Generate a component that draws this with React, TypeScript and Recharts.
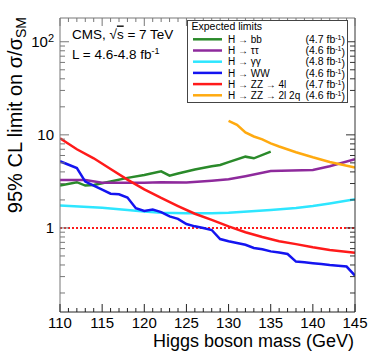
import React from "react";
import { LineChart, Line, XAxis, YAxis, ReferenceLine, Legend, Label } from "recharts";

// expected limits per channel
const massBB = [110, 112, 113, 114, 116, 118, 120, 122, 123, 124, 126, 128, 129, 130, 132, 133, 135];
const limitBB = [2.85, 3.1, 2.85, 2.9, 3.15, 3.45, 3.7, 4.06, 3.64, 3.85, 4.25, 4.6, 4.75, 5.1, 5.83, 5.6, 6.6];

const massTauTau = [110, 113, 115, 120, 122, 125, 128, 130, 132, 135, 140, 142, 145];
const limitTauTau = [3.27, 3.27, 3.05, 3.05, 3.1, 3.08, 3.22, 3.33, 3.6, 4.09, 4.2, 4.6, 5.46];

const massGamGam = [110, 115, 118, 120, 122, 125, 128, 130, 135, 138, 140, 142, 145];
const limitGamGam = [1.74, 1.65, 1.56, 1.5, 1.46, 1.44, 1.44, 1.46, 1.56, 1.64, 1.72, 1.83, 2.03];

const massWW = [110, 112, 113, 114, 115, 116, 117, 118, 119, 120, 121, 122, 123, 124, 125, 126, 127, 128, 129, 130, 131, 132, 133, 134, 135, 136, 137, 138, 139, 140, 141, 142, 143, 144, 145];
const limitWW = [5.2, 4.4, 3.15, 2.85, 2.58, 2.33, 2.3, 2.12, 1.63, 1.52, 1.58, 1.48, 1.33, 1.25, 1.1, 1.04, 1.0, 0.95, 0.76, 0.72, 0.69, 0.66, 0.61, 0.59, 0.56, 0.545, 0.525, 0.435, 0.428, 0.418, 0.41, 0.4, 0.393, 0.385, 0.308];

const massZZ4l = [110, 112, 114, 116, 118, 120, 122, 124, 126, 128, 130, 132, 134, 136, 138, 140, 142, 145];
const limitZZ4l = [9.2, 7.0, 5.6, 4.3, 3.3, 2.6, 2.1, 1.72, 1.42, 1.22, 1.04, 0.9, 0.8, 0.72, 0.67, 0.62, 0.58, 0.54];

const massZZ2l2q = [130, 131, 132, 133, 134, 135, 136, 138, 140, 142, 145];
const limitZZ2l2q = [14.1, 12.8, 10.6, 9.6, 8.95, 8.1, 7.5, 6.5, 5.74, 5.12, 4.45];

const channelNames = ["H → bb", "H → ττ", "H → γγ", "H → WW", "H → ZZ → 4l", "H → ZZ → 2l 2q"];
const channelLumi = ["4.7", "4.6", "4.8", "4.6", "4.7", "4.6"];
const channelColors = ["#2a8a2a", "#8e2a9c", "#2ee6ff", "#1414f0", "#ff1a1a", "#ffaa10"];

const massTicks = [110, 111, 112, 113, 114, 115, 116, 117, 118, 119, 120, 121, 122, 123, 124, 125, 126, 127, 128, 129, 130, 131, 132, 133, 134, 135, 136, 137, 138, 139, 140, 141, 142, 143, 144, 145];
const limitTicks = [0.2, 0.3, 0.4, 0.5, 0.6, 0.7, 0.8, 0.9, 1, 2, 3, 4, 5, 6, 7, 8, 9, 10, 20, 30, 40, 50, 60, 70, 80, 90, 100];

const zip = (xs: number[], ys: number[]) => xs.map((m, i) => ({ m, v: ys[i] }));
const series = [
  zip(massBB, limitBB),
  zip(massTauTau, limitTauTau),
  zip(massGamGam, limitGamGam),
  zip(massWW, limitWW),
  zip(massZZ4l, limitZZ4l),
  zip(massZZ2l2q, limitZZ2l2q),
];

const FONT = "'Liberation Sans', Arial, Helvetica, sans-serif";
const X_GAP = 5;
const Y_GAP = 6;
const DOMAIN_Y: [number, number] = [0.125, 180];

const isMajorY = (v: number) => v === 1 || v === 10 || v === 100;

function BottomTick(props: any) {
  const { x, y, payload } = props;
  const axisY = y - X_GAP;
  const major = payload.value % 5 === 0;
  return (
    <g>
      <line x1={x} x2={x} y1={axisY} y2={axisY - (major ? 8 : 4)} stroke="#222" />
      {major && (
        <text x={x} y={y} dy="0.71em" textAnchor="middle" fontSize={15} fill="#000" fontFamily={FONT}>
          {payload.value}
        </text>
      )}
    </g>
  );
}

function TopTick(props: any) {
  const { x, y, payload } = props;
  const major = payload.value % 5 === 0;
  return <line x1={x} x2={x} y1={y} y2={y + (major ? 8 : 4)} stroke="#777" />;
}

function LeftTick(props: any) {
  const { x, y, payload } = props;
  const axisX = x + Y_GAP;
  const major = isMajorY(payload.value);
  return (
    <g>
      <line x1={axisX} x2={axisX + (major ? 9 : 5)} y1={y} y2={y} stroke="#777" />
      {major && (
        <text x={x} y={y} dy="0.35em" textAnchor="end" fontSize={15} fill="#000" fontFamily={FONT}>
          {payload.value === 100 ? (
            <>
              10<tspan dy="-0.45em" fontSize={11}>2</tspan>
            </>
          ) : (
            payload.value
          )}
        </text>
      )}
    </g>
  );
}

function RightTick(props: any) {
  const { x, y, payload } = props;
  const major = isMajorY(payload.value);
  return <line x1={x} x2={x - (major ? 9 : 5)} y1={y} y2={y} stroke="#333" />;
}

function XTitle(props: any) {
  const vb = props.viewBox;
  return (
    <text x={vb.x + vb.width - 1} y={vb.y + 35} textAnchor="end" fontSize={18} fill="#000" fontFamily={FONT}>
      Higgs boson mass (GeV)
    </text>
  );
}

function YTitle(props: any) {
  const vb = props.viewBox;
  const x = vb.x + 22;
  const y = vb.y - 1;
  return (
    <text x={x} y={y} transform={`rotate(-90, ${x}, ${y})`} textAnchor="end" fontSize={20} fill="#000" fontFamily={FONT}>
      95% CL limit on σ/σ<tspan dy="0.3em" fontSize={14}>SM</tspan>
    </text>
  );
}

function LegendBox() {
  return (
    <svg width={162} height={84} style={{ display: "block", fontFamily: FONT }}>
      <rect x={0.5} y={0.5} width={160} height={82} fill="#fff" stroke="#444" />
      <text x={4.5} y={10} fontSize={10.5} fill="#000">Expected limits</text>
      {channelNames.map((name, i) => {
        const cy = 19.3 + i * 11.2;
        return (
          <g key={name}>
            <line x1={6} x2={35} y1={cy} y2={cy} stroke={channelColors[i]} strokeWidth={2.5} />
            <text x={41} y={cy} dy="0.36em" fontSize={10} fill="#000">{name}</text>
            <text x={158} y={cy} dy="0.36em" fontSize={10.5} fill="#000" textAnchor="end">
              ({channelLumi[i]} fb<tspan dy="-0.4em" fontSize={7}>-1</tspan><tspan dy="0.4em">)</tspan>
            </text>
          </g>
        );
      })}
    </svg>
  );
}

export default function App() {
  return (
    <div style={{ position: "absolute", left: 0, top: 0, width: 374, height: 359, background: "#fff", fontFamily: FONT }}>
      <LineChart width={374} height={359} margin={{ top: 0, right: 0, bottom: 0, left: 0 }}>
        <XAxis
          dataKey="m"
          type="number"
          domain={[110, 145]}
          ticks={massTicks}
          interval={0}
          allowDataOverflow
          height={47}
          tickSize={0}
          tickMargin={X_GAP}
          tickLine={false}
          tick={<BottomTick />}
          axisLine={{ stroke: "#222" }}
        >
          <Label content={<XTitle />} />
        </XAxis>
        <XAxis
          xAxisId="top"
          orientation="top"
          dataKey="m"
          type="number"
          domain={[110, 145]}
          ticks={massTicks}
          interval={0}
          allowDataOverflow
          height={18}
          tickSize={0}
          tickMargin={0}
          tickLine={false}
          tick={<TopTick />}
          axisLine={{ stroke: "#777" }}
        />
        <YAxis
          type="number"
          scale="log"
          domain={DOMAIN_Y}
          ticks={limitTicks}
          interval={0}
          allowDataOverflow
          width={60}
          tickSize={0}
          tickMargin={Y_GAP}
          tickLine={false}
          tick={<LeftTick />}
          axisLine={{ stroke: "#777" }}
        >
          <Label content={<YTitle />} />
        </YAxis>
        <YAxis
          yAxisId="right"
          orientation="right"
          type="number"
          scale="log"
          domain={DOMAIN_Y}
          ticks={limitTicks}
          interval={0}
          allowDataOverflow
          width={19}
          tickSize={0}
          tickMargin={0}
          tickLine={false}
          tick={<RightTick />}
          axisLine={{ stroke: "#333" }}
        />
        <ReferenceLine y={1} stroke="#ff1a1a" strokeWidth={2} strokeDasharray="2 2" />
        {series.map((data, i) => (
          <Line
            key={channelNames[i]}
            data={data}
            dataKey="v"
            name={channelNames[i]}
            type="linear"
            stroke={channelColors[i]}
            strokeWidth={2.5}
            dot={false}
            activeDot={false}
            isAnimationActive={false}
          />
        ))}
        <Legend
          content={<LegendBox />}
          layout="horizontal"
          verticalAlign="middle"
          align="center"
          wrapperStyle={{ left: 187, top: 20, width: 162, height: 84 }}
        />
        <text x={72} y={38.5} fontSize={13.5} fill="#000" fontFamily={FONT}>
          CMS, √<tspan textDecoration="overline">s</tspan> = 7 TeV
        </text>
        <text x={72} y={58.5} fontSize={13.5} fill="#000" fontFamily={FONT}>
          L = 4.6-4.8 fb<tspan dy="-0.45em" fontSize={9}>-1</tspan>
        </text>
      </LineChart>
    </div>
  );
}
